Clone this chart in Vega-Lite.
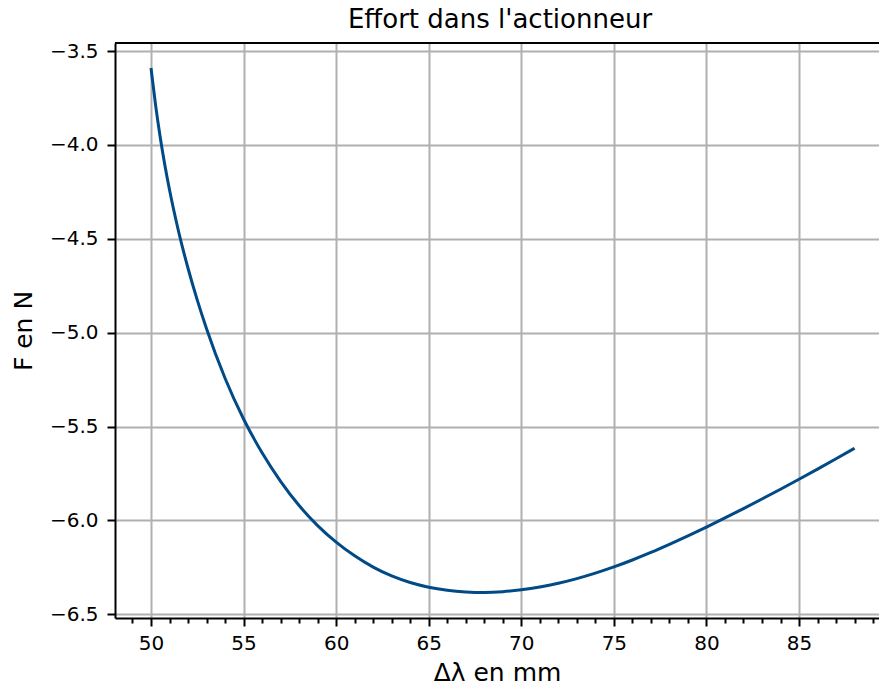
{
  "$schema": "https://vega.github.io/schema/vega-lite/v6.json",
  "autosize": "none",
  "padding": {"left": 115, "top": 43, "right": 0, "bottom": 69},
  "width": 764,
  "height": 575,
  "background": "white",
  "config": {
    "view": {"stroke": null},
    "font": "DejaVu Sans"
  },
  "title": {
    "text": "Effort dans l'actionneur",
    "font": "DejaVu Sans",
    "fontSize": 26,
    "fontWeight": "normal",
    "color": "black",
    "offset": 8,
    "dx": 3
  },
  "data": {
    "values": [
      {"d": 50, "F": -3.59},
      {"d": 50.25, "F": -3.789},
      {"d": 50.5, "F": -3.96},
      {"d": 50.75, "F": -4.108},
      {"d": 51, "F": -4.239},
      {"d": 51.5, "F": -4.465},
      {"d": 52, "F": -4.657},
      {"d": 52.5, "F": -4.827},
      {"d": 53, "F": -4.979},
      {"d": 54, "F": -5.243},
      {"d": 55, "F": -5.46},
      {"d": 56, "F": -5.64},
      {"d": 57, "F": -5.792},
      {"d": 58, "F": -5.921},
      {"d": 59, "F": -6.028},
      {"d": 60, "F": -6.116},
      {"d": 61, "F": -6.189},
      {"d": 62, "F": -6.249},
      {"d": 63, "F": -6.296},
      {"d": 64, "F": -6.331},
      {"d": 65, "F": -6.356},
      {"d": 66, "F": -6.372},
      {"d": 67, "F": -6.381},
      {"d": 68, "F": -6.384},
      {"d": 69, "F": -6.38},
      {"d": 70, "F": -6.37},
      {"d": 71, "F": -6.355},
      {"d": 72, "F": -6.335},
      {"d": 73, "F": -6.31},
      {"d": 74, "F": -6.281},
      {"d": 75, "F": -6.248},
      {"d": 76, "F": -6.211},
      {"d": 77, "F": -6.171},
      {"d": 78, "F": -6.128},
      {"d": 79, "F": -6.083},
      {"d": 80, "F": -6.036},
      {"d": 81, "F": -5.987},
      {"d": 82, "F": -5.937},
      {"d": 83, "F": -5.886},
      {"d": 84, "F": -5.834},
      {"d": 85, "F": -5.781},
      {"d": 86, "F": -5.727},
      {"d": 87, "F": -5.672},
      {"d": 88, "F": -5.616}
    ]
  },
  "layer": [
    {
      "mark": {"type": "line", "color": "#004a87", "strokeWidth": 3, "interpolate": "monotone"},
      "encoding": {
        "x": {
          "field": "d",
          "type": "quantitative",
          "scale": {"domain": [48.056, 89.32], "nice": false, "zero": false},
          "axis": {
            "title": "Δλ en mm",
            "titleFont": "DejaVu Sans",
            "titleFontSize": 25,
            "titleFontWeight": "normal",
            "titleColor": "black",
            "titlePadding": 7,
            "values": [49,50,51,52,53,54,55,56,57,58,59,60,61,62,63,64,65,66,67,68,69,70,71,72,73,74,75,76,77,78,79,80,81,82,83,84,85,86,87,88,89],
            "labelExpr": "datum.value % 5 === 0 ? format(datum.value, 'd') : ''",
            "labelFont": "DejaVu Sans",
            "labelFontSize": 20,
            "labelColor": "black",
            "labelPadding": 7,
            "labelFlush": false,
            "labelOverlap": false,
            "tickColor": "black",
            "tickWidth": 2,
            "tickSize": {"condition": {"test": "datum.value % 5 === 0", "value": 8}, "value": 5},
            "domainColor": "black",
            "domainWidth": 2,
            "grid": true,
            "gridColor": "#b0b0b0",
            "gridWidth": 2,
            "gridOpacity": {"condition": {"test": "datum.value % 5 === 0", "value": 1}, "value": 0}
          }
        },
        "y": {
          "field": "F",
          "type": "quantitative",
          "scale": {"domain": [-6.52, -3.457], "nice": false, "zero": false},
          "axis": {
            "title": "F en N",
            "titleFont": "DejaVu Sans",
            "titleFontSize": 25,
            "titleFontWeight": "normal",
            "titleColor": "black",
            "titlePadding": 13,
            "values": [-6.5, -6.0, -5.5, -5.0, -4.5, -4.0, -3.5],
            "labelExpr": "replace(format(datum.value, '.1f'), '-', '−')",
            "labelFont": "DejaVu Sans",
            "labelFontSize": 20,
            "labelColor": "black",
            "labelPadding": 9,
            "labelFlush": false,
            "tickColor": "black",
            "tickWidth": 2,
            "tickSize": 8,
            "domainColor": "black",
            "domainWidth": 2,
            "grid": true,
            "gridColor": "#b0b0b0",
            "gridWidth": 2
          }
        }
      }
    },
    {
      "mark": {"type": "rule", "color": "black", "strokeWidth": 2},
      "encoding": {"y": {"datum": -3.457}}
    }
  ]
}
